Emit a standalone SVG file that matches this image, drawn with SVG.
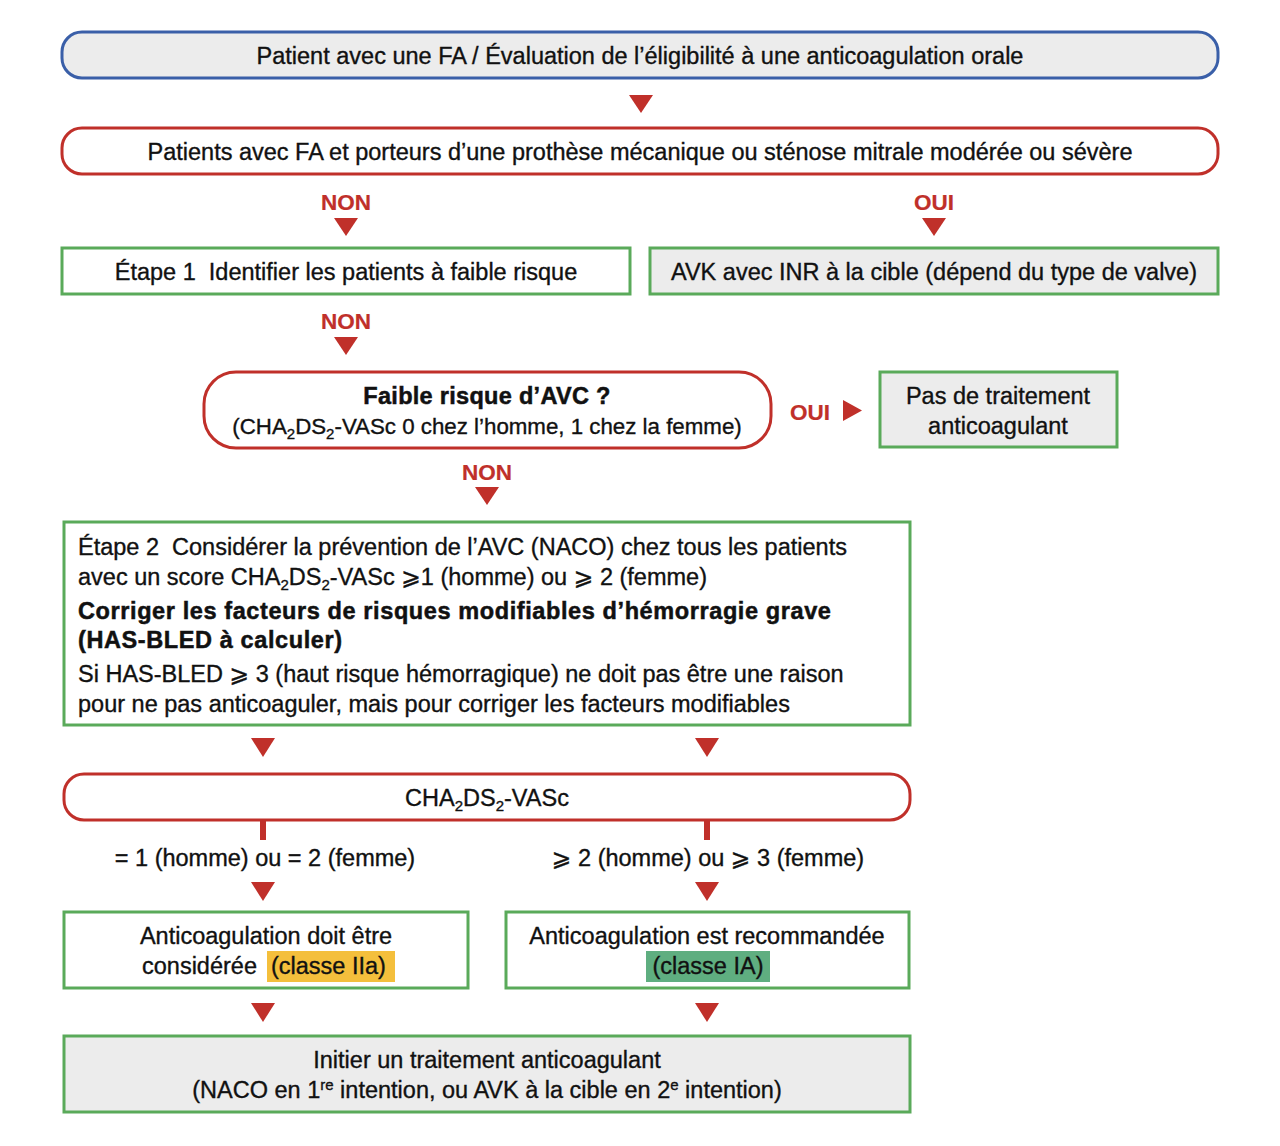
<svg xmlns="http://www.w3.org/2000/svg" width="1280" height="1146" viewBox="0 0 1280 1146">
<style>
text{font-family:"Liberation Sans","DejaVu Sans",Arial,sans-serif;font-size:23.5px;fill:#111;stroke:#111;stroke-width:0.35px;}
.c{text-anchor:middle;}
.b{font-weight:bold;letter-spacing:0.3px;stroke-width:0.5px;}
.b2{font-weight:bold;letter-spacing:0.6px;stroke-width:0.5px;}
.lbl{font-weight:bold;fill:#c0302a;stroke:#c0302a;stroke-width:0.2px;text-anchor:middle;font-size:22.5px;}
.red{fill:#fff;stroke:#c0302a;stroke-width:3;}
.blue{fill:#ececec;stroke:#3a5fa8;stroke-width:3;}
.gw{fill:#fff;stroke:#5aaa5a;stroke-width:3;}
.gg{fill:#ececec;stroke:#5aaa5a;stroke-width:3;}
.arr{fill:#c0302a;}
.sm{font-size:15px;}
</style>
<g id="n1">
<rect class="blue" x="62" y="32" width="1156" height="46" rx="20"/>
<text class="c" x="640" y="64">Patient avec une FA / Évaluation de l’éligibilité à une anticoagulation orale</text>
</g>
<g id="n2">
<rect class="red" x="62" y="128" width="1156" height="46" rx="20"/>
<text class="c" x="640" y="160">Patients avec FA et porteurs d’une prothèse mécanique ou sténose mitrale modérée ou sévère</text>
</g>
<g id="n3">
<rect class="gw" x="62" y="248" width="568" height="46"/>
<text class="c" x="346" y="280" xml:space="preserve">Étape 1  Identifier les patients à faible risque</text>
</g>
<g id="n4">
<rect class="gg" x="650" y="248" width="568" height="46"/>
<text class="c" x="934" y="280">AVK avec INR à la cible (dépend du type de valve)</text>
</g>
<g id="n5">
<rect class="red" x="204" y="372" width="567" height="76" rx="32"/>
<text class="c b" x="487" y="404">Faible risque d’AVC ?</text>
<text class="c" x="487" y="434" style="font-size:22.3px">(CHA<tspan class="sm" dy="5">2</tspan><tspan dy="-5">DS</tspan><tspan class="sm" dy="5">2</tspan><tspan dy="-5">-VASc 0 chez l’homme, 1 chez la femme)</tspan></text>
</g>
<g id="n6">
<rect class="gg" x="880" y="372" width="237" height="75"/>
<text class="c" x="998" y="404">Pas de traitement</text>
<text class="c" x="998" y="434">anticoagulant</text>
</g>
<g id="n7">
<rect class="gw" x="64" y="522" width="846" height="203"/>
<text x="78" y="555" xml:space="preserve">Étape 2  Considérer la prévention de l’AVC (NACO) chez tous les patients</text>
<text x="78" y="585">avec un score CHA<tspan class="sm" dy="5">2</tspan><tspan dy="-5">DS</tspan><tspan class="sm" dy="5">2</tspan><tspan dy="-5">-VASc ⩾1 (homme) ou ⩾ 2 (femme)</tspan></text>
<text class="b2" x="78" y="619">Corriger les facteurs de risques modifiables d’hémorragie grave</text>
<text class="b2" x="78" y="648">(HAS-BLED à calculer)</text>
<text x="78" y="682">Si HAS-BLED ⩾ 3 (haut risque hémorragique) ne doit pas être une raison</text>
<text x="78" y="712">pour ne pas anticoaguler, mais pour corriger les facteurs modifiables</text>
</g>
<g id="n8">
<rect class="red" x="64" y="774" width="846" height="46" rx="20"/>
<text class="c" x="487" y="806">CHA<tspan class="sm" dy="5">2</tspan><tspan dy="-5">DS</tspan><tspan class="sm" dy="5">2</tspan><tspan dy="-5">-VASc</tspan></text>
</g>
<g id="n9">
<rect class="gw" x="64" y="912" width="404" height="76"/>
<rect x="267" y="951" width="128" height="31" fill="#f4bf3c"/>
<text class="c" x="266" y="944">Anticoagulation doit être</text>
<text x="142" y="974">considérée</text>
<text x="271" y="974">(classe IIa)</text>
</g>
<g id="n10">
<rect class="gw" x="506" y="912" width="403" height="76"/>
<rect x="646" y="951" width="124" height="31" fill="#5fae80"/>
<text class="c" x="707" y="944">Anticoagulation est recommandée</text>
<text class="c" x="708" y="974">(classe IA)</text>
</g>
<g id="n11">
<rect class="gg" x="64" y="1036" width="846" height="76"/>
<text class="c" x="487" y="1068">Initier un traitement anticoagulant</text>
<text class="c" x="487" y="1098">(NACO en 1<tspan class="sm" dy="-8">re</tspan><tspan dy="8"> intention, ou AVK à la cible en 2</tspan><tspan class="sm" dy="-8">e</tspan><tspan dy="8"> intention)</tspan></text>
</g>
<g id="connectors">
<polygon class="arr" points="629,95 653,95 641,113"/>
<text class="lbl" x="346" y="210">NON</text>
<polygon class="arr" points="334,218 358,218 346,236"/>
<text class="lbl" x="934" y="210">OUI</text>
<polygon class="arr" points="922,218 946,218 934,236"/>
<text class="lbl" x="346" y="329">NON</text>
<polygon class="arr" points="334,337 358,337 346,355"/>
<text class="lbl" x="810" y="420">OUI</text>
<polygon class="arr" points="843,400 843,421 862,410.5"/>
<text class="lbl" x="487" y="480">NON</text>
<polygon class="arr" points="475,487 499,487 487,505"/>
<polygon class="arr" points="251,738 275,738 263,757"/>
<polygon class="arr" points="695,738 719,738 707,757"/>
<rect class="arr" x="260" y="821" width="6" height="19"/>
<rect class="arr" x="704" y="821" width="6" height="19"/>
<text class="c" x="265" y="866">= 1 (homme) ou = 2 (femme)</text>
<text class="c" x="708" y="866">⩾ 2 (homme) ou ⩾ 3 (femme)</text>
<polygon class="arr" points="251,882 275,882 263,901"/>
<polygon class="arr" points="695,882 719,882 707,901"/>
<polygon class="arr" points="251,1003 275,1003 263,1022"/>
<polygon class="arr" points="695,1003 719,1003 707,1022"/>
</g>
</svg>
